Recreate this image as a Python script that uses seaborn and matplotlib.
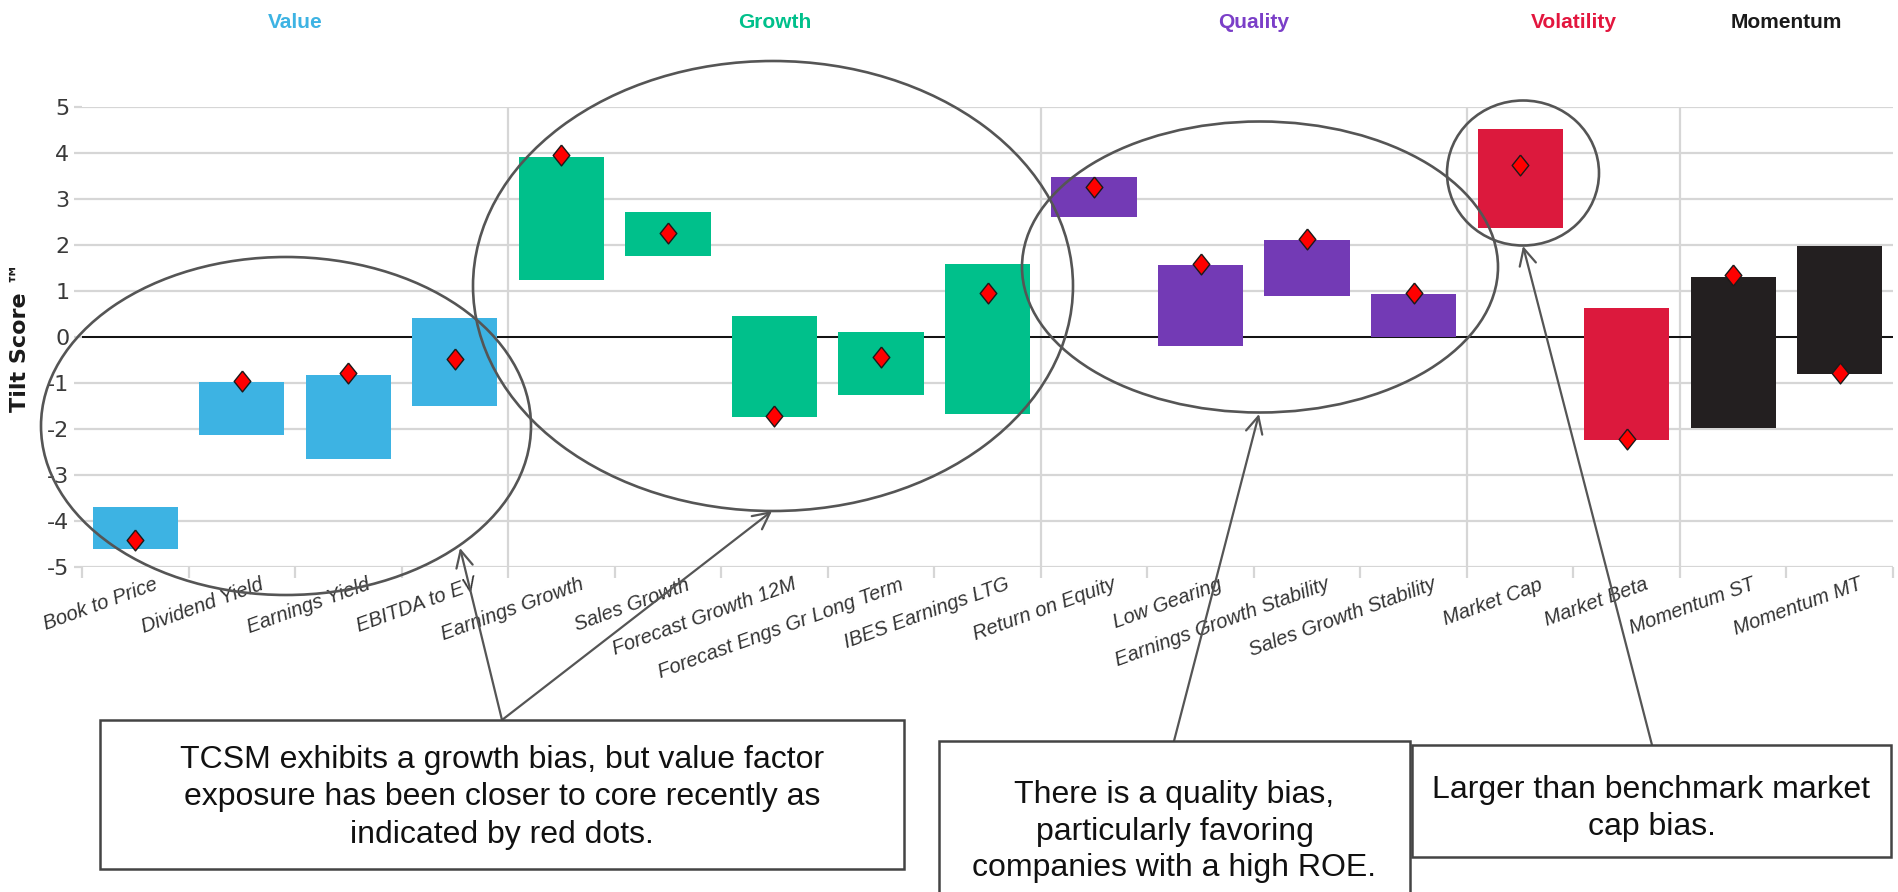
import numpy as np
import pandas as pd
import matplotlib
matplotlib.use("Agg")
import matplotlib.pyplot as plt
import matplotlib.transforms as mtransforms
from matplotlib.patches import Ellipse, Rectangle, FancyArrowPatch
import seaborn as sns

# ---- data -------------------------------------------------------------
factors = [
    "Book to Price", "Dividend Yield", "Earnings Yield", "EBITDA to EV",
    "Earnings Growth", "Sales Growth", "Forecast Growth 12M",
    "Forecast Engs Gr Long Term", "IBES Earnings LTG",
    "Return on Equity", "Low Gearing", "Earnings Growth Stability",
    "Sales Growth Stability",
    "Market Cap", "Market Beta",
    "Momentum ST", "Momentum MT",
]
styles = (["Value"] * 4 + ["Growth"] * 5 + ["Quality"] * 4
          + ["Volatility"] * 2 + ["Momentum"] * 2)

# historical tilt range (low / high) and current tilt per factor
range_low = [-4.60, -2.13, -2.65, -1.51,
             1.25, 1.76, -1.74, -1.27, -1.68,
             2.60, -0.19, 0.90, 0.00,
             2.38, -2.23,
             -1.97, -0.80]
range_high = [-3.70, -0.98, -0.83, 0.41,
              3.92, 2.71, 0.45, 0.11, 1.58,
              3.47, 1.56, 2.10, 0.93,
              4.53, 0.62,
              1.31, 1.97]
current = [-4.42, -0.96, -0.79, -0.48,
           3.95, 2.26, -1.71, -0.43, 0.96,
           3.27, 1.58, 2.12, 0.96,
           3.73, -2.21,
           1.35, -0.79]

style_names = ["Value", "Growth", "Quality", "Volatility", "Momentum"]
bar_colors = ["#3DB3E3", "#00C08B", "#733AB5", "#DC193D", "#231F20"]
header_colors = ["#3DB3E3", "#00C08B", "#7B3FC8", "#E3163E", "#1A1A1A"]

y_ticks = list(range(-5, 6))

notes = [
    ["TCSM exhibits a growth bias, but value factor",
     "exposure has been closer to core recently as",
     "indicated by red dots."],
    ["There is a quality bias,",
     "particularly favoring",
     "companies with a high ROE."],
    ["Larger than benchmark market",
     "cap bias."],
]

# ---- figure -----------------------------------------------------------
W, H = 1898, 892
sns.set_style("white")
plt.rcParams["font.family"] = ["Liberation Sans", "DejaVu Sans"]

fig = plt.figure(figsize=(W / 100, H / 100), dpi=100, facecolor="white")
x0, x1, ytop, ybot = 82, 1893, 107, 567
ax = fig.add_axes([x0 / W, 1 - ybot / H, (x1 - x0) / W, (ybot - ytop) / H])

df = pd.DataFrame({"factor": factors, "style": styles,
                   "low": range_low, "high": range_high, "current": current})
df["span"] = df["high"] - df["low"]

# floating range bars, one colour per factor style
for style, color in zip(style_names, bar_colors):
    sub = df[df["style"] == style]
    sns.barplot(data=sub, x="factor", y="span", order=factors,
                bottom=sub["low"].to_numpy(), color=color, saturation=1,
                width=0.8, errorbar=None, linewidth=0, zorder=2, ax=ax)

# current tilt markers
diamond = [(0, 1), (0.8, 0), (0, -1), (-0.8, 0), (0, 1)]
sns.stripplot(data=df, x="factor", y="current", order=factors, jitter=False,
              marker=diamond, size=15, color="#FF0000", edgecolor="#1a1a1a",
              linewidth=1, zorder=4, ax=ax)

n = len(factors)
ax.set_xlim(-0.5, n - 0.5)
ax.set_ylim(-5, 5)
ax.set_xlabel("")
grid_c = "#d6d6d6"
ax.set_yticks(y_ticks)
ax.set_yticklabels([str(v) for v in y_ticks], family="DejaVu Sans",
                   fontsize=16, color="#3a3a3a")
ax.grid(axis="y", color=grid_c, lw=1.6, zorder=0)
ax.grid(axis="x", visible=False)
ax.axhline(0, color="black", lw=1.3, zorder=1.5)
for i in range(1, len(styles)):
    if styles[i] != styles[i - 1]:
        ax.axvline(i - 0.5, color=grid_c, lw=1.6, zorder=0)
for s in ax.spines.values():
    s.set_visible(False)
ax.tick_params(axis="y", length=6, width=1.6, color=grid_c, pad=3, left=True)

ax.set_xticks(range(n))
ax.set_xticks(np.arange(-0.5, n), minor=True)
ax.tick_params(axis="x", which="minor", length=8, width=1.6, color=grid_c,
               bottom=True)
ax.tick_params(axis="x", which="major", length=0, pad=0)
ax.set_xticklabels(factors, rotation=20, ha="right", va="top",
                   rotation_mode="anchor", fontsize=14.5, style="italic",
                   color="#333333")
shift = mtransforms.ScaledTranslation(0.18, -0.08, fig.dpi_scale_trans)
for lbl in ax.get_xticklabels():
    lbl.set_transform(lbl.get_transform() + shift)

ax.set_ylabel("Tilt Score \u2122", family="DejaVu Sans", fontweight="bold",
              fontsize=16, color="#1a1a1a")
ax.yaxis.set_label_coords(-(x0 - 30) / (x1 - x0), 0.5)

# style headers above each group
head_tf = mtransforms.blended_transform_factory(ax.transData, fig.transFigure)
for style, color in zip(style_names, header_colors):
    idx = [i for i, s in enumerate(styles) if s == style]
    ax.text((idx[0] + idx[-1]) / 2, 1 - 22 / H, style, transform=head_tf,
            ha="center", va="center", fontsize=15, fontweight="bold",
            color=color)

# ---- call-outs --------------------------------------------------------
ov = fig.add_axes([0, 0, 1, 1], zorder=10)
ov.set_xlim(0, W)
ov.set_ylim(H, 0)
ov.axis("off")
ov.patch.set_alpha(0)

ring = dict(fill=False, edgecolor="#555555", lw=1.9)
for (cx, cy, ew, eh) in [(286, 426, 490, 338), (773, 286, 600, 450),
                         (1260, 267, 476, 291), (1523, 173, 152, 145)]:
    ov.add_patch(Ellipse((cx, cy), ew, eh, **ring))

for (a, b) in [((502, 720), (460, 548)), ((502, 720), (772, 511)),
               ((1174, 741), (1259, 414)), ((1652, 745), (1523, 246))]:
    ov.add_patch(FancyArrowPatch(a, b, arrowstyle="->,head_length=0.6,head_width=0.3",
                                 mutation_scale=20, color="#555555", lw=1.6,
                                 shrinkA=0, shrinkB=0))

boxes = [(100, 720, 804, 149), (939, 741, 471, 170), (1412, 745, 479, 112)]
baselines = [[768, 805, 843], [803, 840, 876], [798, 835]]
for (bx, by, bw, bh), lines, ys in zip(boxes, notes, baselines):
    ov.add_patch(Rectangle((bx, by), bw, bh, facecolor="white",
                           edgecolor="#444444", lw=1.8))
    for txt, ty in zip(lines, ys):
        ov.text(bx + bw / 2, ty, txt, ha="center", va="baseline",
                fontsize=23, color="#111111")

fig.savefig("out.png", dpi=100, facecolor="white")
